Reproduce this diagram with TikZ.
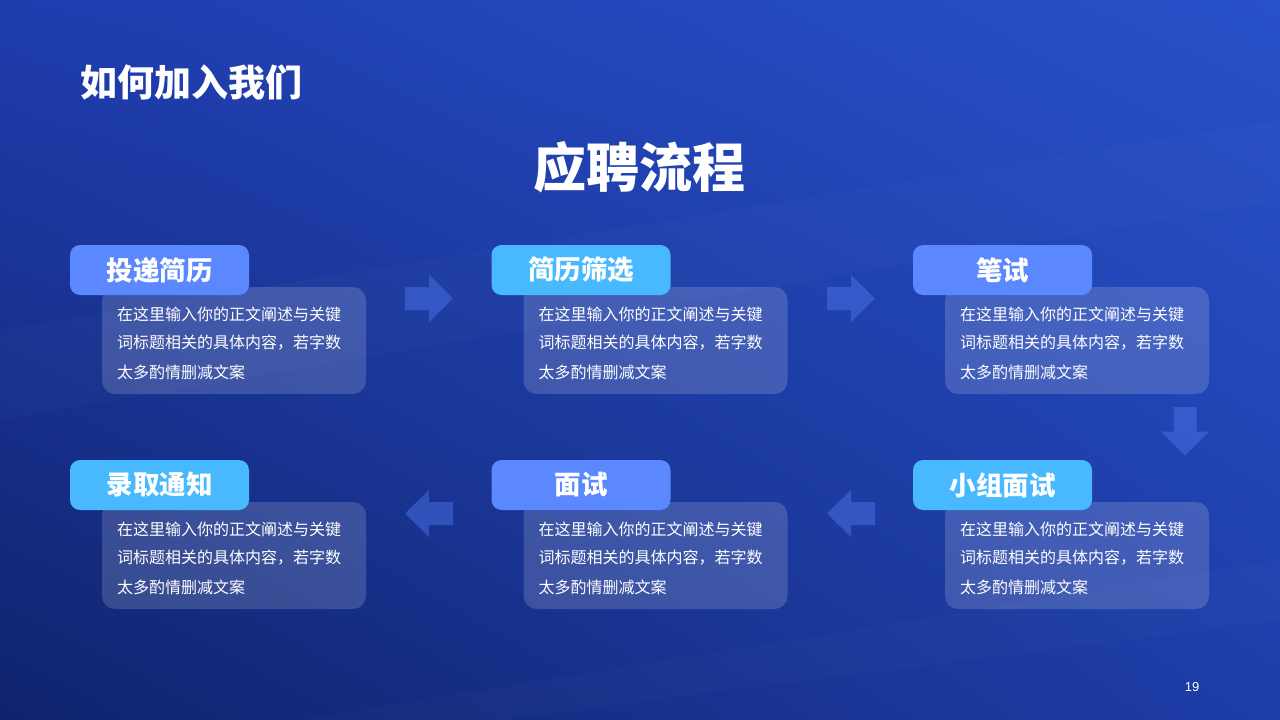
\documentclass[tikz,border=0pt]{standalone}
\usepackage{fontspec}
\usetikzlibrary{shadings}
\setmainfont{Noto Sans CJK SC}
\newfontfamily\latinsans{Liberation Sans}
\definecolor{bgTL}{HTML}{1F3DAE}
\definecolor{bgTR}{HTML}{2852CA}
\definecolor{bgBL}{HTML}{0F236C}
\definecolor{bgBR}{HTML}{1E3DA8}
\definecolor{periw}{HTML}{5B88FF}
\definecolor{skyb}{HTML}{48B8FF}
\definecolor{arrowc}{HTML}{4A72E6}
\tikzset{
  descbox/.style={fill=white, fill opacity=0.16, rounded corners=13pt, draw=none},
  labelbox/.style={rounded corners=10pt, draw=none},
  labeltext/.style={text=white, font=\fontsize{26.5}{30}\selectfont\bfseries, inner sep=0pt},
  bodytext/.style={text=white, font=\fontsize{16}{20}\selectfont, inner sep=0pt, anchor=west},
  flowarrow/.style={fill=arrowc, fill opacity=0.5, draw=none},
}
\newcommand{\stepcard}[5]{%
  % #1 name, #2 x0, #3 y0, #4 label, #5 colour
  \fill[descbox] (#2+32,#3+42) rectangle (#2+296,#3+149);
  \fill[labelbox,#5] (#2,#3) rectangle (#2+179,#3+50);
  \node[labeltext] (#1-label) at (#2+89.5,#3+25) {#4};
  \node[bodytext] (#1-l1) at (#2+47,#3+69) {在这里输入你的正文阐述与关键};
  \node[bodytext] (#1-l2) at (#2+47,#3+98) {词标题相关的具体内容，若字数};
  \node[bodytext] (#1-l3) at (#2+47,#3+127) {太多酌情删减文案};
}
\begin{document}
\begin{tikzpicture}[x=1pt,y=-1pt]
\useasboundingbox (0,0) rectangle (1280,720);
\shade[upper left=bgTL, upper right=bgTR, lower left=bgBL, lower right=bgBR] (0,0) rectangle (1280,720);
% faint light streaks
\fill[white, opacity=0.015] (0,330) -- (1280,120) -- (1280,200) -- (0,420) -- cycle;
\fill[white, opacity=0.015] (300,720) -- (1280,560) -- (1280,620) -- (500,720) -- cycle;

\node[text=white, font=\fontsize{37}{40}\selectfont\bfseries, anchor=west, inner sep=0pt] (header) at (80,82) {如何加入我们};
\node[text=white, font=\fontsize{53}{60}\selectfont\bfseries, inner sep=0pt] (title) at (639,167) {应聘流程};

\stepcard{s1}{70}{245}{投递简历}{periw}
\stepcard{s2}{491.5}{245}{简历筛选}{skyb}
\stepcard{s3}{913}{245}{笔试}{periw}
\stepcard{s4}{913}{460}{小组面试}{skyb}
\stepcard{s5}{491.5}{460}{面试}{periw}
\stepcard{s6}{70}{460}{录取通知}{skyb}

% right arrows, row 1
\foreach \ax in {405,827}{
  \fill[flowarrow] (\ax,287) -- (\ax+24,287) -- (\ax+24,275) -- (\ax+48,298.5) -- (\ax+24,322) -- (\ax+24,310) -- (\ax,310) -- cycle;
}
% down arrow
\fill[flowarrow] (1173.5,407) -- (1196.5,407) -- (1196.5,431.5) -- (1209,431.5) -- (1185,455.5) -- (1161,431.5) -- (1173.5,431.5) -- cycle;
% left arrows, row 2
\foreach \ax in {405,827}{
  \fill[flowarrow] (\ax+48,502) -- (\ax+24,502) -- (\ax+24,490) -- (\ax,513.5) -- (\ax+24,537) -- (\ax+24,525) -- (\ax+48,525) -- cycle;
}

\node[text=white, font=\latinsans\fontsize{13}{15}\selectfont, inner sep=0pt] (pagenum) at (1192,687) {19};
\end{tikzpicture}
\end{document}
